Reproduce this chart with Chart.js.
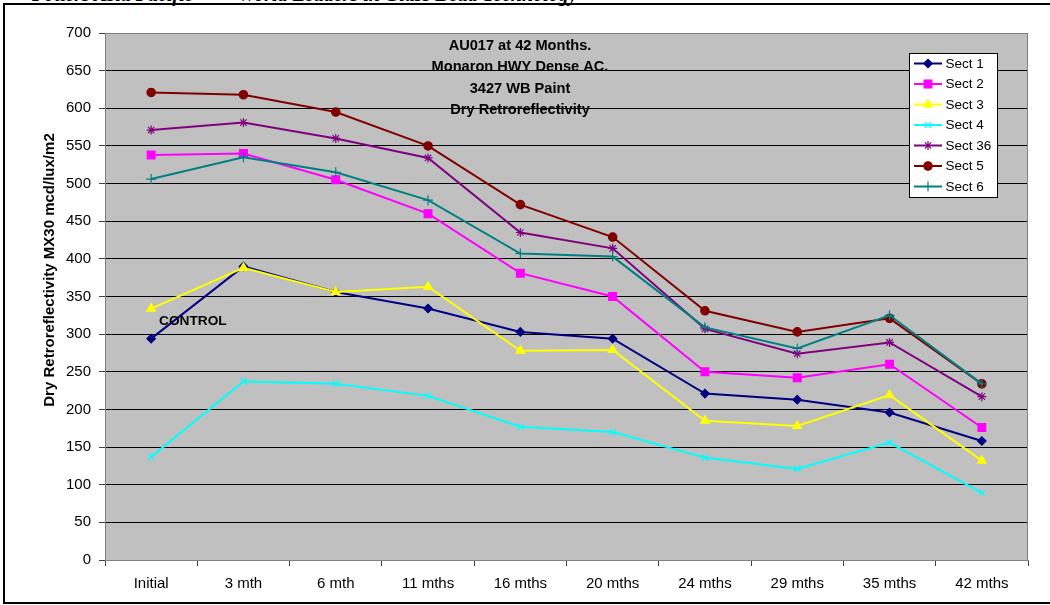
<!DOCTYPE html>
<html>
<head>
<meta charset="utf-8">
<script src="https://cdn.jsdelivr.net/npm/chart.js@4.4.1/dist/chart.umd.min.js"></script>
<style>
  html, body { margin: 0; padding: 0; background: #fff; }
  body { width: 1050px; height: 605px; position: relative; overflow: hidden; }
  .hdr { position: absolute; top: -17px; font: italic bold 20px "Liberation Serif", serif; color: #000; white-space: nowrap; }
  .frame { position: absolute; left: 3px; top: 3px; width: 1070px; height: 597px; border: 2px solid #000; }
  #wrap { position: absolute; left: 0; top: 0; width: 1050px; height: 605px; }
</style>
</head>
<body>
<div class="hdr" style="left:32px">Potters Asia Pacific</div>
<div class="hdr" style="left:238px">World Leaders in Glass Bead Technology</div>
<div class="frame"></div>
<div id="wrap"><canvas id="chart" width="1050" height="605"></canvas></div>
<script>
// periods and readings per section
const periods = ['Initial', '3 mth', '6 mth', '11 mths', '16 mths', '20 mths', '24 mths', '29 mths', '35 mths', '42 mths'];
const sect1  = [294, 390, 356, 334, 303, 294, 221, 213, 196, 158];
const sect2  = [538, 540, 505, 460, 381, 350, 250, 242, 260, 176];
const sect3  = [334, 388, 356, 363, 278, 279, 185, 178, 219, 132];
const sect4  = [137, 237, 234, 218, 177, 170, 136, 121, 156, 89];
const sect36 = [571, 581, 560, 534, 435, 414, 307, 274, 289, 217];
const sect5  = [621, 618, 595, 550, 472, 429, 331, 303, 321, 234];
const sect6  = [506, 535, 515, 478, 407, 403, 309, 281, 325, 234];
const yTicks = [0, 50, 100, 150, 200, 250, 300, 350, 400, 450, 500, 550, 600, 650, 700];

const titleLines = ['AU017 at 42 Months.', 'Monaron HWY Dense AC.', '3427 WB Paint', 'Dry Retroreflectivity'];
const yTitle = 'Dry Retroreflectivity MX30 mcd/lux/m2';
const FONT = '"Liberation Sans", Arial, sans-serif';

function series(label, data, color, style, radius) {
    return {
        label: label,
        data: data,
        borderColor: color,
        backgroundColor: color,
        borderWidth: 2,
        pointStyle: style,
        pointRadius: radius,
        pointBorderWidth: 1.2,
        pointBorderColor: color,
        pointBackgroundColor: color,
        tension: 0
    };
}

const datasets = [
    series('Sect 1', sect1, '#000080', 'rectRot', 4.2),
    series('Sect 2', sect2, '#FF00FF', 'rect', 5.5),
    series('Sect 3', sect3, '#FFFF00', 'triangle', 5),
    series('Sect 4', sect4, '#00FFFF', 'crossRot', 4.5),
    series('Sect 36', sect36, '#800080', 'star', 4.5),
    series('Sect 5', sect5, '#800000', 'circle', 4.2),
    series('Sect 6', sect6, '#008080', 'cross', 5)
];
// later series sit on top
datasets.forEach(function(ds, i) { ds.order = datasets.length - i; });

const overlay = {
    id: 'overlay',
    beforeDraw: function(chart) {
        const a = chart.chartArea, c = chart.ctx;
        c.save();
        c.fillStyle = '#C0C0C0';
        c.fillRect(a.left, a.top, a.right - a.left, a.bottom - a.top);
        c.restore();
    },
    afterDraw: function(chart) {
        const a = chart.chartArea, c = chart.ctx;
        c.save();
        // plot border
        c.strokeStyle = '#808080';
        c.lineWidth = 1;
        c.strokeRect(a.left + 0.5, a.top + 0.5, a.right - a.left - 1, a.bottom - a.top);

        // chart title inside the plot
        c.fillStyle = '#000';
        c.font = 'bold 14.6px ' + FONT;
        c.textAlign = 'center';
        c.textBaseline = 'middle';
        titleLines.forEach(function(t, i) { c.fillText(t, 520, 46 + i * 21.3); });

        // note on the control section
        c.font = 'bold 13.7px ' + FONT;
        c.textAlign = 'left';
        c.fillText('CONTROL', 159, 321);

        // y axis title
        c.save();
        c.translate(50, 270);
        c.rotate(-Math.PI / 2);
        c.font = 'bold 15px ' + FONT;
        c.textAlign = 'center';
        c.fillText(yTitle, 0, 0);
        c.restore();

        // legend box
        const lx = 909.5, ly = 53.5, lw = 88, lh = 144;
        c.fillStyle = '#fff';
        c.fillRect(lx, ly, lw, lh);
        c.strokeStyle = '#000';
        c.lineWidth = 1;
        c.strokeRect(lx, ly, lw, lh);
        c.font = '13.5px ' + FONT;
        c.textAlign = 'left';
        c.textBaseline = 'middle';
        chart.data.datasets.forEach(function(ds, i) {
            const y = 63.5 + i * 20.5;
            c.strokeStyle = ds.borderColor;
            c.lineWidth = 2;
            c.beginPath();
            c.moveTo(914, y);
            c.lineTo(942, y);
            c.stroke();
            c.fillStyle = ds.pointBackgroundColor;
            c.strokeStyle = ds.pointBorderColor;
            c.lineWidth = 1.2;
            Chart.helpers.drawPoint(c, {pointStyle: ds.pointStyle, radius: ds.pointRadius, rotation: 0, borderWidth: 1.2}, 928, y);
            c.fillStyle = '#000';
            c.fillText(ds.label, 945.5, y + 0.5);
        });
        c.restore();
    }
};

const ctx = document.getElementById('chart').getContext('2d');
window.retroChart = new Chart(ctx, {
    type: 'line',
    data: {
        labels: periods,
        datasets: datasets
    },
    options: {
        responsive: false,
        animation: false,
        events: [],
        layout: { padding: { left: 0, top: 33, right: 22, bottom: 0 } },
        scales: {
            x: {
                offset: true,
                afterFit: function(scale) { scale.height = 45; },
                grid: {
                    offset: true,
                    drawOnChartArea: false,
                    drawTicks: true,
                    tickLength: 6,
                    tickColor: '#404040'
                },
                border: { color: '#808080', width: 1 },
                ticks: {
                    color: '#000',
                    font: { family: FONT, size: 15 },
                    padding: 9,
                    maxRotation: 0,
                    autoSkip: false
                }
            },
            y: {
                min: 0,
                max: 700,
                afterFit: function(scale) { scale.width = 105; },
                afterBuildTicks: function(scale) {
                    scale.ticks = yTicks.map(function(v) { return { value: v }; });
                },
                grid: {
                    color: '#000',
                    lineWidth: 1,
                    drawTicks: true,
                    tickLength: 6,
                    tickColor: '#404040'
                },
                border: { color: '#808080', width: 1 },
                ticks: {
                    color: '#000',
                    font: { family: FONT, size: 15 },
                    padding: 8
                }
            }
        },
        plugins: {
            legend: { display: false },
            title: { display: false },
            tooltip: { enabled: false }
        }
    },
    plugins: [overlay]
});
</script>
</body>
</html>
